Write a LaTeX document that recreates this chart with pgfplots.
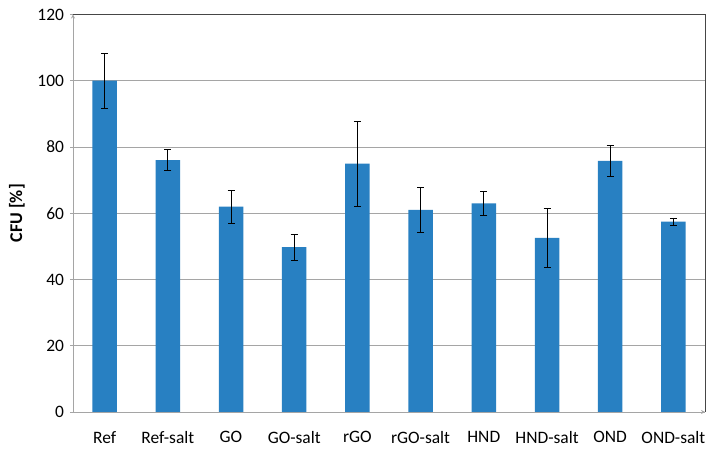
\documentclass[border=0pt]{standalone}
\usepackage{pgfplots}
\pgfplotsset{compat=1.18}
\usepackage{fontspec}
\setmainfont{Carlito}
\definecolor{barblue}{RGB}{40,128,194}
\definecolor{gridgray}{RGB}{165,165,165}
\definecolor{framegray}{RGB}{70,70,70}
\begin{document}
\begin{tikzpicture}
\useasboundingbox (-73bp,-39bp) rectangle (640bp,412bp);
\begin{axis}[
  at={(0,0)}, anchor=south west,
  scale only axis,
  width=632bp, height=397.5bp,
  xmin=-0.5, xmax=9.5,
  ymin=0, ymax=120,
  ytick={0,20,...,120},
  xtick={0,...,9},
  xticklabels={Ref,Ref-salt,GO,GO-salt,rGO,rGO-salt,HND,HND-salt,OND,OND-salt},
  extra x ticks={-0.5,0.5,...,9.5},
  extra x tick labels={},
  extra x tick style={major tick length=7bp, tick style={gridgray, line width=0.8pt}},
  x tick style={draw=none},
  ymajorgrids,
  grid style={gridgray, line width=0.8pt},
  tick align=outside,
  major tick length=5bp,
  y tick style={gridgray, line width=0.8pt},
  xtick pos=bottom, ytick pos=left,
  axis line style={gridgray, line width=0.8pt},
  axis lines=left,
  tick label style={font=\fontsize{17.5}{20}\selectfont, text=black},
  xticklabel style={yshift=-11bp},
  yticklabel style={xshift=-3bp},
  /pgf/number format/assume math mode=true,
  ylabel={\bfseries CFU [\%]},
  ylabel style={font=\fontsize{18}{21}\selectfont, at={(axis description cs:-0.0886,0.5)}, anchor=center},
  ybar, bar width=24.5bp,
  clip=false,
]
\addplot[fill=barblue, draw=none,
  error bars/.cd, y dir=both, y explicit,
  error bar style={black, line width=0.7pt},
  error mark options={rotate=90, mark size=3.5bp, black, line width=0.7pt}]
  coordinates {
  (0,100) +- (0,8.2)
  (1,76) +- (0,3.2)
  (2,62) +- (0,5.0)
  (3,49.8) +- (0,3.9)
  (4,75) +- (0,12.8)
  (5,61) +- (0,6.9)
  (6,63) +- (0,3.5)
  (7,52.6) +- (0,8.8)
  (8,75.8) +- (0,4.8)
  (9,57.5) +- (0,1.1)
  };
\draw[framegray, line width=0.8pt] (rel axis cs:0,1) -- (rel axis cs:1,1) -- (rel axis cs:1,0);
\end{axis}
\end{tikzpicture}
\end{document}
